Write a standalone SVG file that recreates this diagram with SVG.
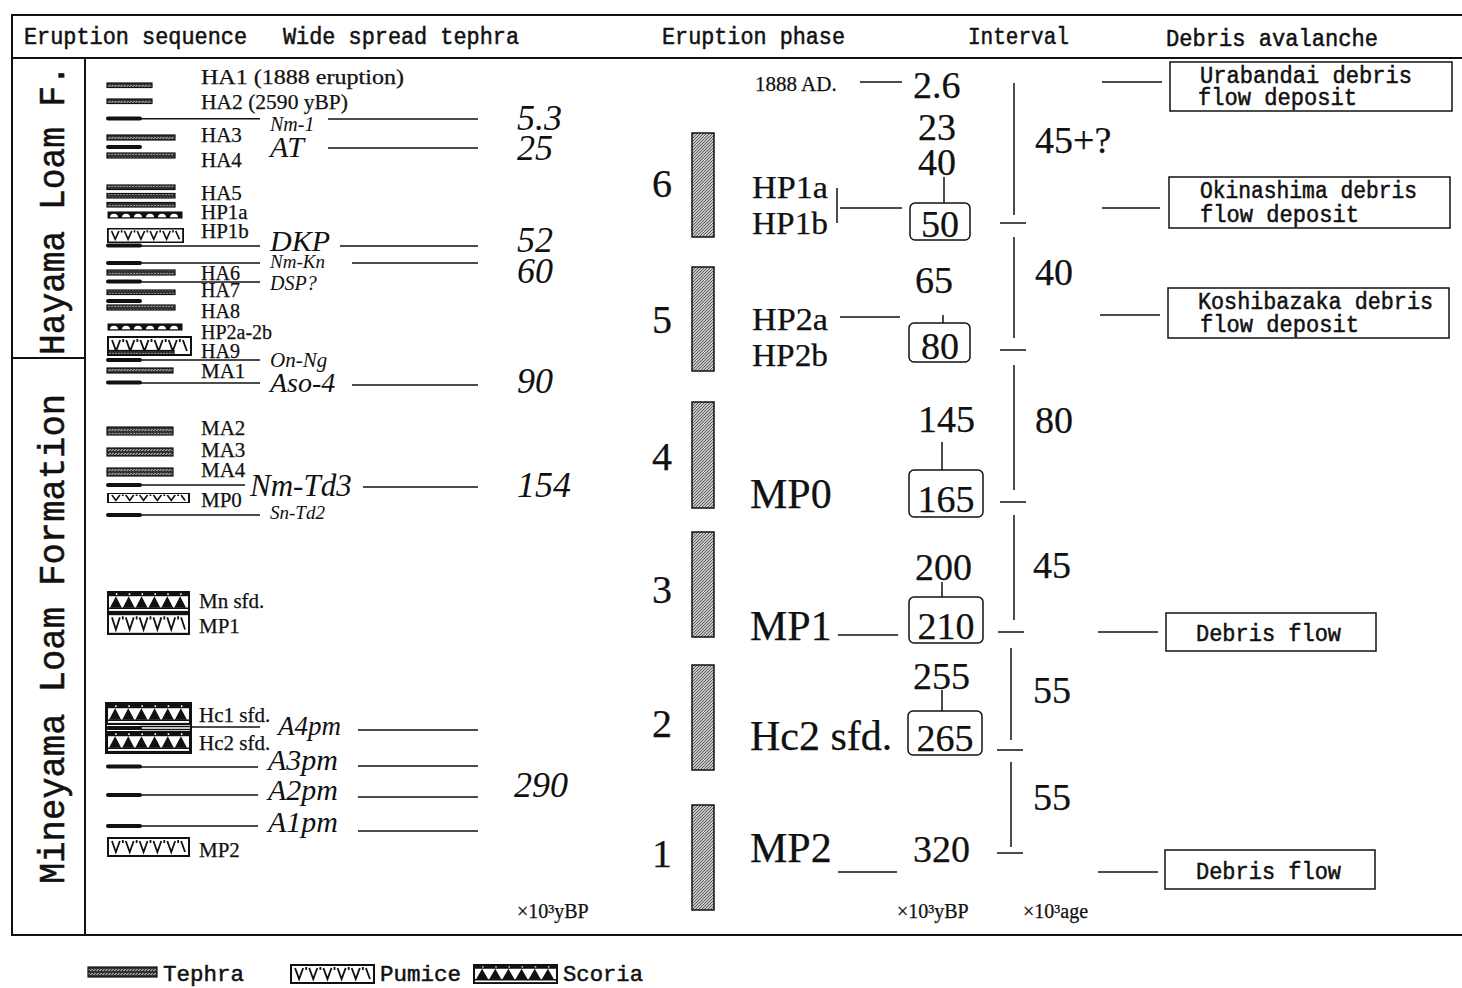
<svg xmlns="http://www.w3.org/2000/svg" width="1462" height="988" viewBox="0 0 1462 988">
<style>
.ln{stroke:#111;stroke-width:1.5;fill:none}
.fr{stroke:#111;stroke-width:2;fill:none}
.bb{stroke:#111;stroke-width:4;stroke-linecap:round}
.tp{fill:url(#teph);stroke:#111;stroke-width:1.2}
.ph{fill:url(#phs);stroke:#111;stroke-width:1.5}
.bx{fill:#fff;stroke:#111;stroke-width:1.5}
.mono{font-family:"Liberation Mono","DejaVu Sans Mono",monospace;fill:#111;stroke:#111;stroke-width:0.5;font-size:23px}
.sr{font-family:"Liberation Serif","Times New Roman",serif;fill:#111;stroke:#111;stroke-width:0.25}
.it{font-family:"Liberation Serif","Times New Roman",serif;font-style:italic;fill:#111}
.s20{font-size:20px}
.s21{font-size:21px}
.s38{font-size:38px}
.s42{font-size:42px}
.v36{font-size:36px}
</style>
<defs>
<pattern id="teph" width="6" height="4" patternUnits="userSpaceOnUse"><rect width="6" height="4" fill="#333"/><path d="M0.5,3 L2.5,1 M3.5,3 L5.5,1" stroke="#eee" stroke-width="1"/></pattern>
<pattern id="phs" width="3" height="3" patternUnits="userSpaceOnUse"><rect width="3" height="3" fill="#c4c4c4"/><path d="M0,3 L3,0" stroke="#444" stroke-width="0.8"/></pattern>
<symbol id="pum" viewBox="0 0 84 20" preserveAspectRatio="none">
<rect x="1" y="1" width="82" height="18" fill="#fff" stroke="#111" stroke-width="2"/>
<path d="M5,4 L9,15 L13,4 M19,4 L23,15 L27,4 M33,4 L37,15 L41,4 M47,4 L51,15 L55,4 M61,4 L65,15 L69,4 M75,4 L79,15 M16,3 v3 M30,3 v3 M44,3 v3 M58,3 v3 M72,3 v3" fill="none" stroke="#111" stroke-width="1.8"/>
</symbol>
<symbol id="sco" viewBox="0 0 84 21" preserveAspectRatio="none">
<rect x="1" y="1" width="82" height="19" fill="#fff" stroke="#111" stroke-width="2"/>
<rect x="1" y="1" width="82" height="4" fill="#111"/>
<path d="M3,16 L9,5 L15,16Z M16,16 L22,5 L28,16Z M29,16 L35,5 L41,16Z M42,16 L48,5 L54,16Z M55,16 L61,5 L67,16Z M68,16 L74,5 L80,16Z" fill="#111"/>
<line x1="1" y1="16.5" x2="83" y2="16.5" stroke="#111" stroke-width="1.5"/>
<path d="M9,3 h1.5 M22,3 h1.5 M35,3 h1.5 M48,3 h1.5 M61,3 h1.5 M74,3 h1.5" stroke="#fff" stroke-width="1.5"/>
</symbol>
<symbol id="bmp" viewBox="0 0 76 9" preserveAspectRatio="none">
<rect x="0.5" y="0.5" width="75" height="8" fill="#111"/>
<path d="M3,7 a4,4 0 0 1 8,0Z M15,7 a4,4 0 0 1 8,0Z M27,7 a4,4 0 0 1 8,0Z M39,7 a4,4 0 0 1 8,0Z M51,7 a4,4 0 0 1 8,0Z M63,7 a4,4 0 0 1 8,0Z" fill="#fff"/>
</symbol>
</defs>
<rect width="1462" height="988" fill="#fff"/>

<g id="frame">
<rect class="fr" x="12" y="15" width="1460" height="920"/>
<line class="fr" x1="12" y1="58" x2="1462" y2="58"/>
<line class="fr" x1="85" y1="58" x2="85" y2="935"/>
<line class="fr" x1="12" y1="358" x2="85" y2="358"/>
</g>

<g id="headers">
<text class="mono" x="24" y="44" textLength="223" lengthAdjust="spacingAndGlyphs">Eruption sequence</text>
<text class="mono" x="283" y="44" textLength="236" lengthAdjust="spacingAndGlyphs">Wide spread tephra</text>
<text class="mono" x="662" y="44" textLength="183" lengthAdjust="spacingAndGlyphs">Eruption phase</text>
<text class="mono" x="968" y="44" textLength="101" lengthAdjust="spacingAndGlyphs">Interval</text>
<text class="mono" x="1166" y="46" textLength="212" lengthAdjust="spacingAndGlyphs">Debris avalanche</text>
</g>

<g id="formations">
<text class="mono" style="font-size:36px" transform="translate(64,355) rotate(-90)" textLength="290" lengthAdjust="spacingAndGlyphs">Hayama Loam F.</text>
<text class="mono" style="font-size:36px" transform="translate(64,884) rotate(-90)" textLength="490" lengthAdjust="spacingAndGlyphs">Mineyama Loam Formation</text>
</g>

<g id="tephra-symbols">
<rect class="tp" x="107" y="83" width="45" height="4.5"/>
<rect class="tp" x="107" y="99" width="45" height="4.5"/>
<rect class="tp" x="107" y="135" width="68" height="5"/>
<rect class="tp" x="107" y="153" width="68" height="5"/>
<rect class="tp" x="107" y="185" width="68" height="4.5"/>
<rect class="tp" x="107" y="193.5" width="68" height="4.5"/>
<rect class="tp" x="107" y="202.5" width="68" height="4.5"/>
<use href="#bmp" x="107" y="211" width="76" height="8"/>
<use href="#pum" x="107" y="228" width="77" height="15"/>
<rect class="tp" x="107" y="270" width="68" height="5"/>
<rect class="tp" x="107" y="290" width="68" height="4.5"/>
<rect class="tp" x="107" y="305" width="68" height="5"/>
<use href="#bmp" x="107" y="323" width="76" height="8"/>
<use href="#pum" x="107" y="336" width="85" height="20"/>
<rect class="tp" x="108" y="350.5" width="66" height="4"/>
<rect class="tp" x="107" y="368" width="66" height="5"/>
<rect class="tp" x="107" y="427" width="66" height="8"/>
<rect class="tp" x="107" y="448" width="66" height="8"/>
<rect class="tp" x="107" y="468" width="66" height="8"/>
<use href="#pum" x="107" y="493" width="83" height="10"/>
<use href="#sco" x="107" y="591" width="83" height="22"/>
<use href="#pum" x="107" y="613" width="83" height="22"/>
<use href="#sco" x="106" y="703" width="85" height="22"/>
<use href="#sco" x="106" y="731" width="85" height="22"/>
<rect x="106" y="703" width="85" height="50" fill="none" stroke="#111" stroke-width="2"/>
<line x1="140" y1="726.5" x2="190" y2="726.5" class="ln" stroke-width="1"/>
<line x1="140" y1="729.5" x2="190" y2="729.5" class="ln" stroke-width="1"/>
<use href="#pum" x="107" y="837" width="83" height="20"/>
</g>

<g id="black-bars">
<line class="bb" x1="108" y1="118.5" x2="140" y2="118.5"/>
<line class="bb" x1="108" y1="147" x2="140" y2="147"/>
<line class="bb" x1="108" y1="245.5" x2="140" y2="245.5"/>
<line class="bb" x1="108" y1="263" x2="140" y2="263"/>
<line class="bb" x1="108" y1="281.5" x2="140" y2="281.5"/>
<line class="bb" x1="108" y1="301" x2="140" y2="301"/>
<line class="bb" x1="108" y1="360" x2="140" y2="360"/>
<line class="bb" x1="108" y1="382.5" x2="140" y2="382.5"/>
<line class="bb" x1="108" y1="485" x2="140" y2="485"/>
<line class="bb" x1="108" y1="515" x2="140" y2="515"/>
<line class="bb" x1="108" y1="728" x2="140" y2="728"/>
<line class="bb" x1="108" y1="766.5" x2="140" y2="766.5"/>
<line class="bb" x1="108" y1="795" x2="140" y2="795"/>
<line class="bb" x1="108" y1="826" x2="140" y2="826"/>
</g>

<g id="tephra-labels" class="sr s21">
<text x="201" y="84" textLength="203" lengthAdjust="spacingAndGlyphs">HA1 (1888 eruption)</text>
<text x="201" y="109" textLength="147" lengthAdjust="spacingAndGlyphs">HA2 (2590 yBP)</text>
<text x="201" y="142">HA3</text>
<text x="201" y="167">HA4</text>
<text x="201" y="200">HA5</text>
<text x="201" y="219">HP1a</text>
<text x="201" y="238">HP1b</text>
<text x="201" y="280" class="s20">HA6</text>
<text x="201" y="297" class="s20">HA7</text>
<text x="201" y="318" class="s20">HA8</text>
<text x="201" y="339" class="s20">HP2a-2b</text>
<text x="201" y="358" class="s20">HA9</text>
<text x="201" y="378">MA1</text>
<text x="201" y="435">MA2</text>
<text x="201" y="457">MA3</text>
<text x="201" y="477">MA4</text>
<text x="201" y="507">MP0</text>
<text x="199" y="608">Mn sfd.</text>
<text x="199" y="633">MP1</text>
<text x="199" y="722">Hc1 sfd.</text>
<text x="199" y="750">Hc2 sfd.</text>
<text x="199" y="857">MP2</text>
</g>

<g id="connectors">
<line class="ln" x1="140" y1="118.7" x2="260" y2="118.7"/>
<line class="ln" x1="140" y1="246" x2="260" y2="246"/>
<line class="ln" x1="140" y1="263" x2="260" y2="263"/>
<line class="ln" x1="140" y1="282" x2="260" y2="282"/>
<line class="ln" x1="140" y1="360" x2="260" y2="360"/>
<line class="ln" x1="140" y1="383" x2="260" y2="383"/>
<line class="ln" x1="140" y1="485" x2="245" y2="485"/>
<line class="ln" x1="140" y1="515" x2="260" y2="515"/>
<line class="ln" x1="190" y1="727" x2="260" y2="727"/>
<line class="ln" x1="140" y1="767" x2="258" y2="767"/>
<line class="ln" x1="140" y1="795" x2="258" y2="795"/>
<line class="ln" x1="140" y1="826" x2="258" y2="826"/>
<line class="ln" x1="328" y1="119" x2="478" y2="119"/>
<line class="ln" x1="328" y1="148" x2="478" y2="148"/>
<line class="ln" x1="340" y1="246" x2="478" y2="246"/>
<line class="ln" x1="352" y1="263" x2="478" y2="263"/>
<line class="ln" x1="352" y1="385" x2="478" y2="385"/>
<line class="ln" x1="363" y1="487" x2="478" y2="487"/>
<line class="ln" x1="358" y1="730" x2="478" y2="730"/>
<line class="ln" x1="358" y1="766" x2="478" y2="766"/>
<line class="ln" x1="358" y1="797" x2="478" y2="797"/>
<line class="ln" x1="358" y1="831" x2="478" y2="831"/>
<line class="ln" x1="860" y1="82" x2="902" y2="82"/>
<line class="ln" x1="837" y1="188" x2="837" y2="223"/>
<line class="ln" x1="840" y1="208" x2="902" y2="208"/>
<line class="ln" x1="840" y1="317" x2="900" y2="317"/>
<line class="ln" x1="838" y1="635" x2="898" y2="635"/>
<line class="ln" x1="838" y1="872" x2="897" y2="872"/>
<line class="ln" x1="944" y1="177" x2="944" y2="203"/>
<line class="ln" x1="943" y1="315" x2="943" y2="323"/>
<line class="ln" x1="942" y1="442" x2="942" y2="470"/>
<line class="ln" x1="942" y1="582" x2="942" y2="597"/>
<line class="ln" x1="942" y1="690" x2="942" y2="711"/>
<line class="ln" x1="1102" y1="82" x2="1162" y2="82"/>
<line class="ln" x1="1102" y1="208" x2="1160" y2="208"/>
<line class="ln" x1="1100" y1="315" x2="1160" y2="315"/>
<line class="ln" x1="1098" y1="632" x2="1158" y2="632"/>
<line class="ln" x1="1098" y1="872" x2="1158" y2="872"/>
</g>

<g id="wide-tephra" class="it">
<text x="270" y="131" style="font-size:20px">Nm-1</text>
<text x="270" y="157" style="font-size:30px">AT</text>
<text x="270" y="251" style="font-size:30px">DKP</text>
<text x="270" y="268" style="font-size:19px">Nm-Kn</text>
<text x="270" y="290" style="font-size:20px">DSP?</text>
<text x="270" y="367" style="font-size:21px">On-Ng</text>
<text x="270" y="392" style="font-size:28px">Aso-4</text>
<text x="250" y="496" style="font-size:31px">Nm-Td3</text>
<text x="270" y="519" style="font-size:19px">Sn-Td2</text>
<text x="278" y="735" style="font-size:27px">A4pm</text>
<text x="268" y="770" style="font-size:30px">A3pm</text>
<text x="268" y="800" style="font-size:30px">A2pm</text>
<text x="268" y="832" style="font-size:30px">A1pm</text>
</g>

<g id="tephra-ages" class="it v36">
<text x="517" y="130">5.3</text>
<text x="517" y="160">25</text>
<text x="517" y="252">52</text>
<text x="517" y="283">60</text>
<text x="517" y="393">90</text>
<text x="517" y="497">154</text>
<text x="514" y="797">290</text>
</g>

<g id="phase-bars">
<rect class="ph" x="692" y="133" width="22" height="104"/>
<rect class="ph" x="692" y="267" width="22" height="104"/>
<rect class="ph" x="692" y="402" width="22" height="106"/>
<rect class="ph" x="692" y="532" width="22" height="105"/>
<rect class="ph" x="692" y="665" width="22" height="105"/>
<rect class="ph" x="692" y="805" width="22" height="105"/>
</g>

<g id="phase-numbers" class="sr" style="font-size:40px">
<text x="652" y="197">6</text>
<text x="652" y="333">5</text>
<text x="652" y="470">4</text>
<text x="652" y="603">3</text>
<text x="652" y="737">2</text>
<text x="652" y="867">1</text>
</g>

<g id="phase-labels" class="sr">
<text x="755" y="91" class="s21">1888 AD.</text>
<text x="752" y="198" style="font-size:31px" textLength="76" lengthAdjust="spacingAndGlyphs">HP1a</text>
<text x="752" y="234" style="font-size:31px" textLength="76" lengthAdjust="spacingAndGlyphs">HP1b</text>
<text x="752" y="330" style="font-size:31px" textLength="76" lengthAdjust="spacingAndGlyphs">HP2a</text>
<text x="752" y="366" style="font-size:31px" textLength="76" lengthAdjust="spacingAndGlyphs">HP2b</text>
<text x="750" y="508" class="s42">MP0</text>
<text x="750" y="640" class="s42">MP1</text>
<text x="750" y="750" class="s42">Hc2 sfd.</text>
<text x="750" y="862" class="s42">MP2</text>
</g>

<g id="ages" class="sr s38">
<text x="913" y="98">2.6</text>
<text x="918" y="140">23</text>
<text x="918" y="175">40</text>
<text x="915" y="293">65</text>
<text x="918" y="432">145</text>
<text x="915" y="580">200</text>
<text x="913" y="689">255</text>
<text x="913" y="862">320</text>
</g>

<g id="age-boxes" class="sr s38" text-anchor="middle">
<rect class="bx" x="910" y="203" width="60" height="37" rx="5"/>
<text x="940" y="237">50</text>
<rect class="bx" x="909" y="323" width="61" height="39" rx="5"/>
<text x="940" y="359">80</text>
<rect class="bx" x="909" y="470" width="74" height="47" rx="5"/>
<text x="946" y="512">165</text>
<rect class="bx" x="909" y="597" width="74" height="46" rx="5"/>
<text x="946" y="639">210</text>
<rect class="bx" x="908" y="711" width="74" height="44" rx="5"/>
<text x="945" y="751">265</text>
</g>

<g id="interval">
<line class="ln" x1="1014" y1="83" x2="1014" y2="215"/>
<line class="ln" x1="1014" y1="237" x2="1014" y2="338"/>
<line class="ln" x1="1014" y1="365" x2="1014" y2="490"/>
<line class="ln" x1="1014" y1="515" x2="1014" y2="620"/>
<line class="ln" x1="1011" y1="648" x2="1011" y2="740"/>
<line class="ln" x1="1011" y1="762" x2="1011" y2="847"/>
<line class="ln" x1="1000" y1="223" x2="1026" y2="223"/>
<line class="ln" x1="1000" y1="350" x2="1026" y2="350"/>
<line class="ln" x1="1000" y1="502" x2="1026" y2="502"/>
<line class="ln" x1="998" y1="632" x2="1024" y2="632"/>
<line class="ln" x1="997" y1="750" x2="1023" y2="750"/>
<line class="ln" x1="997" y1="853" x2="1023" y2="853"/>
<g class="sr s38">
<text x="1035" y="153">45+?</text>
<text x="1035" y="285">40</text>
<text x="1035" y="433">80</text>
<text x="1033" y="578">45</text>
<text x="1033" y="703">55</text>
<text x="1033" y="810">55</text>
</g>
</g>

<g id="units" class="sr" style="font-size:20px">
<text x="517" y="918">×10³yBP</text>
<text x="897" y="918">×10³yBP</text>
<text x="1023" y="918">×10³age</text>
</g>

<g id="debris-urabandai">
<rect class="bx" x="1170" y="62" width="282" height="49"/>
<text class="mono" x="1200" y="83" textLength="212" lengthAdjust="spacingAndGlyphs">Urabandai debris</text>
<text class="mono" x="1198" y="105" textLength="159" lengthAdjust="spacingAndGlyphs">flow deposit</text>
</g>
<g id="debris-okinashima">
<rect class="bx" x="1169" y="177" width="281" height="51"/>
<text class="mono" x="1200" y="198" textLength="217" lengthAdjust="spacingAndGlyphs">Okinashima debris</text>
<text class="mono" x="1200" y="222" textLength="159" lengthAdjust="spacingAndGlyphs">flow deposit</text>
</g>
<g id="debris-koshibazaka">
<rect class="bx" x="1168" y="288" width="281" height="50"/>
<text class="mono" x="1198" y="309" textLength="235" lengthAdjust="spacingAndGlyphs">Koshibazaka debris</text>
<text class="mono" x="1200" y="332" textLength="159" lengthAdjust="spacingAndGlyphs">flow deposit</text>
</g>
<g id="debris-flow-1">
<rect class="bx" x="1166" y="613" width="210" height="38"/>
<text class="mono" x="1196" y="641" textLength="145" lengthAdjust="spacingAndGlyphs">Debris flow</text>
</g>
<g id="debris-flow-2">
<rect class="bx" x="1165" y="850" width="210" height="39"/>
<text class="mono" x="1196" y="879" textLength="145" lengthAdjust="spacingAndGlyphs">Debris flow</text>
</g>

<g id="legend">
<rect class="tp" x="88" y="967" width="69" height="10"/>
<text class="mono" style="font-size:22px" x="163" y="981" textLength="81" lengthAdjust="spacingAndGlyphs">Tephra</text>
<use href="#pum" x="290" y="964" width="85" height="20"/>
<text class="mono" style="font-size:22px" x="380" y="981" textLength="81" lengthAdjust="spacingAndGlyphs">Pumice</text>
<use href="#sco" x="473" y="964" width="85" height="20"/>
<text class="mono" style="font-size:22px" x="563" y="981" textLength="80" lengthAdjust="spacingAndGlyphs">Scoria</text>
</g>
</svg>
